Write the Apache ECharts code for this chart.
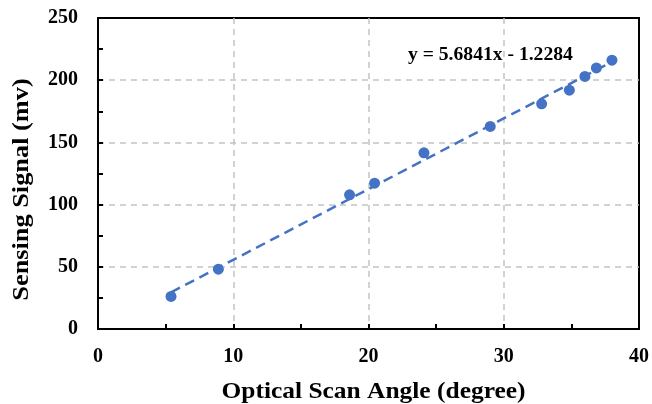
<!DOCTYPE html>
<html>
<head>
<meta charset="utf-8">
<script src="https://cdn.jsdelivr.net/npm/echarts@6/dist/echarts.min.js"></script>
<style>
  html, body { margin: 0; padding: 0; background: #fff; }
  #chart { width: 652px; height: 404px; }
</style>
</head>
<body>
<div id="chart"></div>
<script>
// Measured points: scan angle (degree) vs sensing signal (mv)
const scanAngle = [5.4, 8.9, 18.6, 20.45, 24.1, 29.0, 32.8, 34.85, 36.0, 36.85, 38.0];
const signal = [26.2, 48.1, 107.9, 117.2, 141.6, 162.8, 181.0, 192.0, 203.0, 209.9, 216.1];

// Linear fit coefficients
const fitSlope = 5.6841;
const fitIntercept = -1.2284;
const fitLabel = 'y = 5.6841x - 1.2284';

// Axis titles and ranges
const xTitle = 'Optical Scan Angle (degree)';
const yTitle = 'Sensing Signal (mv)';
const xTicks = [0, 10, 20, 30, 40];
const yTicks = [0, 50, 100, 150, 200, 250];

const xMin = Math.min(...scanAngle);
const xMax = Math.max(...scanAngle);
const fitLine = [
  [xMin, fitSlope * xMin + fitIntercept],
  [xMax, fitSlope * xMax + fitIntercept]
];

const FONT = '"Liberation Serif", "Times New Roman", serif';
const BLUE = '#4472C4';

const chart = echarts.init(document.getElementById('chart'), null, { renderer: 'canvas' });

const gridLine = {
  show: true, showMinLine: false, showMaxLine: false,
  lineStyle: { color: '#c4c4c4', width: 1.5, type: [6, 5] }
};
const tickStyle = { color: '#000', width: 2 };
const labelStyle = { fontFamily: FONT, fontWeight: 'bold', fontSize: 20, color: '#000' };

chart.setOption({
  animation: false,
  backgroundColor: '#fff',
  grid: {
    left: 98, right: 13, top: 18, bottom: 75,
    show: true, borderColor: '#000', borderWidth: 2
  },
  xAxis: {
    type: 'value',
    min: xTicks[0], max: xTicks[xTicks.length - 1], interval: 10,
    axisLine: { lineStyle: { color: '#000', width: 2 } },
    axisTick: { inside: true, length: 5, lineStyle: tickStyle },
    minorTick: { show: true, splitNumber: 2, length: 5, lineStyle: tickStyle },
    axisLabel: Object.assign({ margin: 18 }, labelStyle),
    splitLine: gridLine
  },
  yAxis: {
    type: 'value',
    min: yTicks[0], max: yTicks[yTicks.length - 1], interval: 50,
    axisLine: { show: true, lineStyle: { color: '#000', width: 2 } },
    axisTick: { show: true, inside: true, length: 5, lineStyle: tickStyle },
    minorTick: { show: true, splitNumber: 2, length: 5, lineStyle: tickStyle },
    axisLabel: Object.assign({ margin: 20 }, labelStyle),
    splitLine: gridLine
  },
  series: [
    {
      type: 'line',
      data: fitLine,
      symbol: 'none',
      silent: true,
      lineStyle: { color: BLUE, width: 2.5, type: [10, 6] },
      z: 2
    },
    {
      type: 'scatter',
      data: scanAngle.map((x, i) => [x, signal[i]]),
      symbol: 'circle',
      symbolSize: 11,
      itemStyle: { color: BLUE, opacity: 1 },
      z: 3
    }
  ],
  graphic: [
    {
      // regression equation
      type: 'text',
      x: 408, y: 46, scaleX: 1.09,
      style: {
        text: fitLabel,
        font: 'bold 18px ' + FONT,
        fill: '#000',
        textAlign: 'left', textVerticalAlign: 'top'
      },
      z: 10
    },
    {
      // x axis title
      type: 'text',
      x: 373.5, y: 392.5, scaleX: 1.106,
      style: {
        text: xTitle,
        font: 'bold 23px ' + FONT,
        fill: '#000',
        textAlign: 'center', textVerticalAlign: 'middle'
      }
    },
    {
      // y axis title
      type: 'text',
      x: 21.5, y: 189.5, rotation: Math.PI / 2, scaleX: 1.097,
      style: {
        text: yTitle,
        font: 'bold 24px ' + FONT,
        fill: '#000',
        textAlign: 'center', textVerticalAlign: 'middle'
      }
    }
  ]
});
</script>
</body>
</html>
